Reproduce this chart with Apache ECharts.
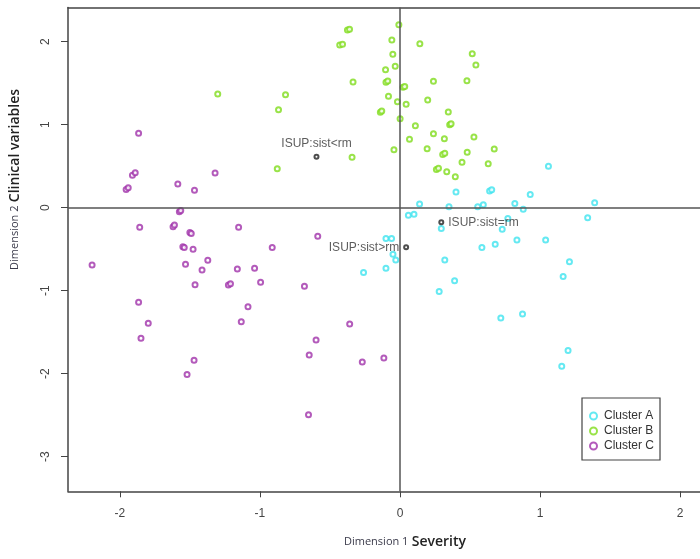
<!DOCTYPE html>
<html>
<head>
<meta charset="utf-8">
<script src="https://cdn.jsdelivr.net/npm/echarts@6/dist/echarts.min.js"></script>
<style>
  html, body { margin: 0; padding: 0; background: #fff; }
  #chart { width: 700px; height: 559px; }
</style>
</head>
<body>
<div id="chart"></div>
<script>
// points: [dimension 1, dimension 2]
const clusterA = [
  [1.06, 0.50], [0.40, 0.19], [0.64, 0.20], [0.655, 0.215], [0.93, 0.16],
  [0.14, 0.045], [0.35, 0.01], [0.555, 0.01], [0.595, 0.035], [0.82, 0.05],
  [0.88, -0.02], [1.39, 0.06], [0.06, -0.09], [0.10, -0.08], [0.295, -0.25],
  [0.77, -0.13], [0.73, -0.26], [1.34, -0.12], [-0.10, -0.37], [-0.06, -0.37],
  [0.585, -0.48], [0.68, -0.44], [0.835, -0.39], [1.04, -0.39], [-0.05, -0.56],
  [-0.03, -0.63], [-0.10, -0.73], [0.32, -0.63], [1.21, -0.65], [1.165, -0.83],
  [0.39, -0.88], [0.28, -1.01], [0.72, -1.33], [0.875, -1.28], [1.20, -1.72],
  [1.155, -1.91], [-0.26, -0.78]
];
const clusterB = [
  [-0.008, 2.205], [-0.375, 2.14], [-0.36, 2.15], [-0.43, 1.96], [-0.41, 1.97],
  [-0.058, 2.02], [0.142, 1.976], [-0.051, 1.848], [-0.034, 1.704], [-0.103, 1.663],
  [-0.335, 1.514], [-0.10, 1.51], [-0.087, 1.525], [0.022, 1.45], [0.034, 1.46],
  [-1.301, 1.37], [-0.817, 1.361], [-0.867, 1.181], [-0.876, 0.47], [-0.082, 1.342],
  [-0.018, 1.277], [0.044, 1.245], [-0.14, 1.15], [-0.13, 1.165], [0.001, 1.072],
  [0.11, 0.988], [0.068, 0.824], [-0.043, 0.699], [-0.342, 0.607], [0.516, 1.855],
  [0.542, 1.719], [0.239, 1.523], [0.478, 1.53], [0.198, 1.298], [0.345, 1.153],
  [0.355, 1.0], [0.365, 1.01], [0.239, 0.892], [0.317, 0.832], [0.528, 0.852],
  [0.673, 0.707], [0.194, 0.711], [0.305, 0.64], [0.32, 0.655], [0.48, 0.667],
  [0.443, 0.547], [0.63, 0.53], [0.26, 0.46], [0.275, 0.475], [0.334, 0.434],
  [0.395, 0.374]
];
const clusterC = [
  [-1.866, 0.896], [-1.91, 0.39], [-1.89, 0.42], [-1.955, 0.22], [-1.94, 0.24],
  [-1.586, 0.285], [-1.467, 0.21], [-1.32, 0.418], [-1.575, -0.05], [-1.565, -0.035],
  [-1.858, -0.236], [-1.62, -0.23], [-1.61, -0.21], [-1.50, -0.30], [-1.49, -0.31],
  [-1.152, -0.236], [-1.55, -0.47], [-1.54, -0.48], [-1.477, -0.50], [-0.912, -0.48],
  [-2.198, -0.69], [-1.531, -0.682], [-1.372, -0.634], [-1.413, -0.75], [-1.161, -0.739],
  [-1.038, -0.73], [-1.463, -0.928], [-1.225, -0.93], [-1.21, -0.915], [-0.995, -0.899],
  [-0.682, -0.947], [-1.866, -1.14], [-1.085, -1.193], [-1.797, -1.393], [-1.133, -1.373],
  [-0.359, -1.40], [-1.849, -1.574], [-0.599, -1.594], [-0.648, -1.775], [-0.269, -1.859],
  [-0.115, -1.811], [-1.47, -1.839], [-1.52, -2.01], [-0.653, -2.494], [-0.587, -0.345]
];
const supplementary = [[-0.596, 0.614], [0.295, -0.176], [0.044, -0.477]];
const supplementaryNames = ['ISUP:sist<rm', 'ISUP:sist=rm', 'ISUP:sist>rm'];
const labelSides = ['top', 'right', 'left'];

const xTicks = [-2, -1, 0, 1, 2];
const yTicks = [-3, -2, -1, 0, 1, 2];

// the plot box runs past the right edge of the picture, so no right border
const X_MIN = -2.37, X_MAX = 2.142;

function pointSeries(name, data, color) {
    return {
        name: name,
        type: 'scatter',
        data: data,
        symbol: 'emptyCircle',
        symbolSize: 5,
        itemStyle: { color: color, borderColor: color, borderWidth: 1 },
        silent: true
    };
}

let chart = echarts.init(document.getElementById('chart'), null, { renderer: 'canvas' });

let option = {
    animation: false,
    backgroundColor: '#fff',
    textStyle: { fontFamily: 'Liberation Sans, Arial, sans-serif' },
    grid: { left: 66, top: 7.5, right: 0, bottom: 67.7, show: false },
    legend: {
        data: ['Cluster A', 'Cluster B', 'Cluster C'],
        orient: 'vertical',
        left: 582, top: 398,
        padding: [12, 6, 8, 7],
        itemWidth: 7, itemHeight: 7, itemGap: 3,
        borderColor: '#444', borderWidth: 1.2,
        backgroundColor: '#fff',
        textStyle: { fontSize: 12, color: '#333', padding: [0, 0, 0, 2] }
    },
    xAxis: [{
        type: 'value',
        min: X_MIN, max: X_MAX,
        splitLine: { show: false },
        axisLine: { show: true, onZero: false, lineStyle: { color: '#444', width: 1.5 } },
        axisTick: { show: true, customValues: xTicks, length: 6, lineStyle: { color: '#444' } },
        axisLabel: { customValues: xTicks, margin: 16, fontSize: 12, color: '#444' },
        name: '{a|Dimension 1} {b|Severity}',
        nameLocation: 'middle',
        nameGap: 44,
        nameTextStyle: {
            padding: [0, 0, 0, 42],
            rich: {
                a: { fontFamily: 'Open Sans', fontSize: 11, color: '#3a3a4a' },
                b: { fontFamily: 'Open Sans', fontSize: 14, fontWeight: 600, color: '#222' }
            }
        }
    }, {
        // top border of the box
        type: 'value',
        position: 'top',
        min: X_MIN, max: X_MAX,
        splitLine: { show: false },
        axisLine: { show: true, onZero: false, lineStyle: { color: '#444', width: 1.5 } },
        axisTick: { show: false },
        axisLabel: { show: false }
    }],
    yAxis: {
        type: 'value',
        min: -3.417, max: 2.412,
        splitLine: { show: false },
        axisLine: { show: true, onZero: false, lineStyle: { color: '#444', width: 1.5 } },
        axisTick: { show: true, customValues: yTicks, length: 7, lineStyle: { color: '#444' } },
        axisLabel: { customValues: yTicks, rotate: 90, margin: 16, fontSize: 12, color: '#444' },
        name: '{a|Dimension 2} {b|Clinical variables}',
        nameLocation: 'middle',
        nameGap: 46,
        nameTextStyle: {
            padding: [0, 0, 0, 140],
            rich: {
                a: { fontFamily: 'Open Sans', fontSize: 11, color: '#3a3a4a' },
                b: { fontFamily: 'Open Sans', fontSize: 14, fontWeight: 600, color: '#222' }
            }
        }
    },
    series: [
        pointSeries('Cluster A', clusterA, '#3fe3ef'),
        pointSeries('Cluster B', clusterB, '#7fdc1c'),
        pointSeries('Cluster C', clusterC, '#a032aa'),
        {
            name: 'supplementary',
            type: 'scatter',
            symbol: 'emptyCircle',
            symbolSize: 4,
            itemStyle: { color: '#222', borderColor: '#222', borderWidth: 1 },
            data: supplementary.map((p, i) => ({
                value: p,
                label: {
                    show: true,
                    formatter: supplementaryNames[i],
                    position: labelSides[i],
                    distance: 4,
                    fontSize: 12,
                    color: '#333'
                }
            })),
            markLine: {
                silent: true,
                symbol: 'none',
                label: { show: false },
                lineStyle: { color: '#555', width: 1.5, type: 'solid' },
                data: [{ xAxis: 0 }, { yAxis: 0 }]
            }
        }
    ]
};

chart.setOption(option);
</script>
</body>
</html>
